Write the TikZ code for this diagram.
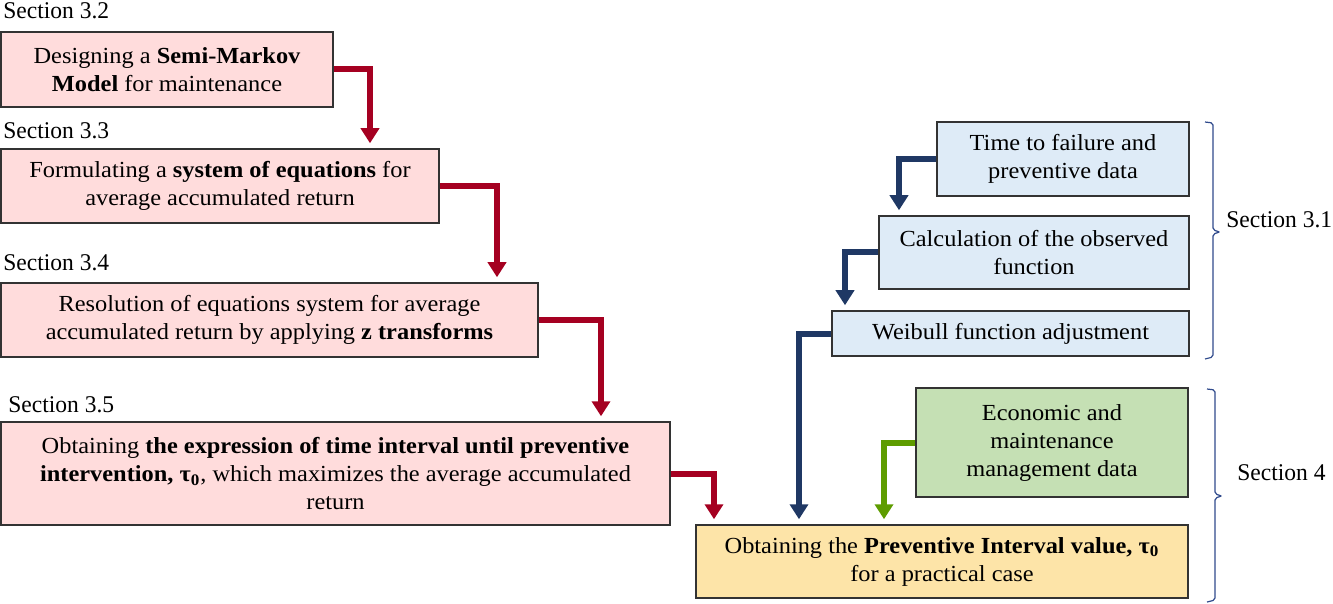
\documentclass[tikz,border=0pt]{standalone}
\usepackage{fontspec}
\setmainfont{Liberation Serif}[FakeStretch=1.06]
\newfontfamily\lblfont{Liberation Serif}[FakeStretch=0.98]
\usetikzlibrary{arrows.meta}
\definecolor{pinkfill}{HTML}{FFDCDC}
\definecolor{bluefill}{HTML}{DEEBF7}
\definecolor{greenfill}{HTML}{C5E0B4}
\definecolor{orangefill}{HTML}{FDE4A8}
\definecolor{redline}{HTML}{A50021}
\definecolor{blueline}{HTML}{1F3864}
\definecolor{greenline}{HTML}{5E9C00}
\definecolor{bracecol}{HTML}{2F4A8C}
\begin{document}
\begin{tikzpicture}[x=0.5pt,y=-0.5pt,
  box/.style={draw=black!80,line width=0.75pt,rectangle,inner sep=0pt,align=center,
    font=\fontsize{11.5}{14}\selectfont},
  lbl/.style={anchor=west,inner sep=0pt,font=\lblfont\fontsize{12}{14}\selectfont},
  conn/.style={line width=3pt,-{Triangle[width=9pt,length=7.5pt]},shorten >=2.5pt},
  redconn/.style={conn,draw=redline},
  blueconn/.style={conn,draw=blueline},
  greenconn/.style={conn,draw=greenline},
  bracket/.style={draw=bracecol,line width=0.6pt,rounded corners=1pt}
]
\useasboundingbox (0,0) rectangle (1333,604);

% left column
\node[lbl] (s32) at (3,11) {Section 3.2};
\node[box,fill=pinkfill,minimum width=166pt,minimum height=37.5pt] (b1) at (167,69.5)
  {Designing a \textbf{Semi-Markov}\\\textbf{Model} for maintenance};
\node[lbl] (s33) at (3,131) {Section 3.3};
\node[box,fill=pinkfill,minimum width=219pt,minimum height=37pt] (b2) at (220,186)
  {Formulating a \textbf{system of equations} for\\average accumulated return};
\node[lbl] (s34) at (3,263) {Section 3.4};
\node[box,fill=pinkfill,minimum width=268.5pt,minimum height=37pt] (b3) at (269.5,320)
  {Resolution of equations system for average\\accumulated return by applying \textbf{z transforms}};
\node[lbl] (s35) at (8,405) {Section 3.5};
\node[box,fill=pinkfill,minimum width=334.5pt,minimum height=51.5pt] (b4) at (335.5,473.5)
  {Obtaining \textbf{the expression of time interval until preventive}\\\textbf{intervention, τ\textsubscript{0}}, which maximizes the average accumulated\\return};

% result box
\node[box,fill=orangefill,minimum width=246pt,minimum height=36.5pt] (res) at (942,561.5)
  {Obtaining the \textbf{Preventive Interval value, τ\textsubscript{0}}\\for a practical case};

% right column
\node[box,fill=bluefill,minimum width=126pt,minimum height=37pt] (u1) at (1063,159)
  {Time to failure and\\preventive data};
\node[box,fill=bluefill,minimum width=155pt,minimum height=36.5pt] (u2) at (1034,252.5)
  {Calculation of the observed\\function};
\node[box,fill=bluefill,minimum width=178.5pt,minimum height=22.5pt] (u3) at (1010.5,333.5)
  {Weibull function adjustment};
\node[box,fill=greenfill,minimum width=136pt,minimum height=54.5pt] (g1) at (1052,442.5)
  {Economic and\\maintenance\\management data};

% corner coordinates
\coordinate (k1) at (370,0);
\coordinate (k2) at (497,0);
\coordinate (k3) at (601,0);
\coordinate (k4) at (714,0);
\coordinate (k5) at (899,0);
\coordinate (k6) at (845,0);
\coordinate (k7) at (799,0);
\coordinate (k8) at (884,0);

% connectors
\draw[redconn] (b1.east) -| (k1 |- b2.north);
\draw[redconn] (b2.east) -| (k2 |- b3.north);
\draw[redconn] (b3.east) -| (k3 |- b4.north);
\draw[redconn] (b4.east) -| (k4 |- res.north);
\draw[blueconn] (u1.west) -| (k5 |- u2.north);
\draw[blueconn] (u2.west) -| (k6 |- u3.north);
\draw[blueconn] (u3.west) -| (k7 |- res.north);
\draw[greenconn] (g1.west) -| (k8 |- res.north);

% brackets
\draw[bracket] (1205,122) -- (1213,123) -- (1213,230) -- (1220,232) -- (1213,234) -- (1213,357) -- (1205,359);
\node[lbl] (s31) at (1226,220) {Section 3.1};
\draw[bracket] (1207,389) -- (1215,390) -- (1215,494) -- (1222,496) -- (1215,498) -- (1215,600) -- (1207,602);
\node[lbl] (s4) at (1237,473) {Section 4};
\end{tikzpicture}
\end{document}
